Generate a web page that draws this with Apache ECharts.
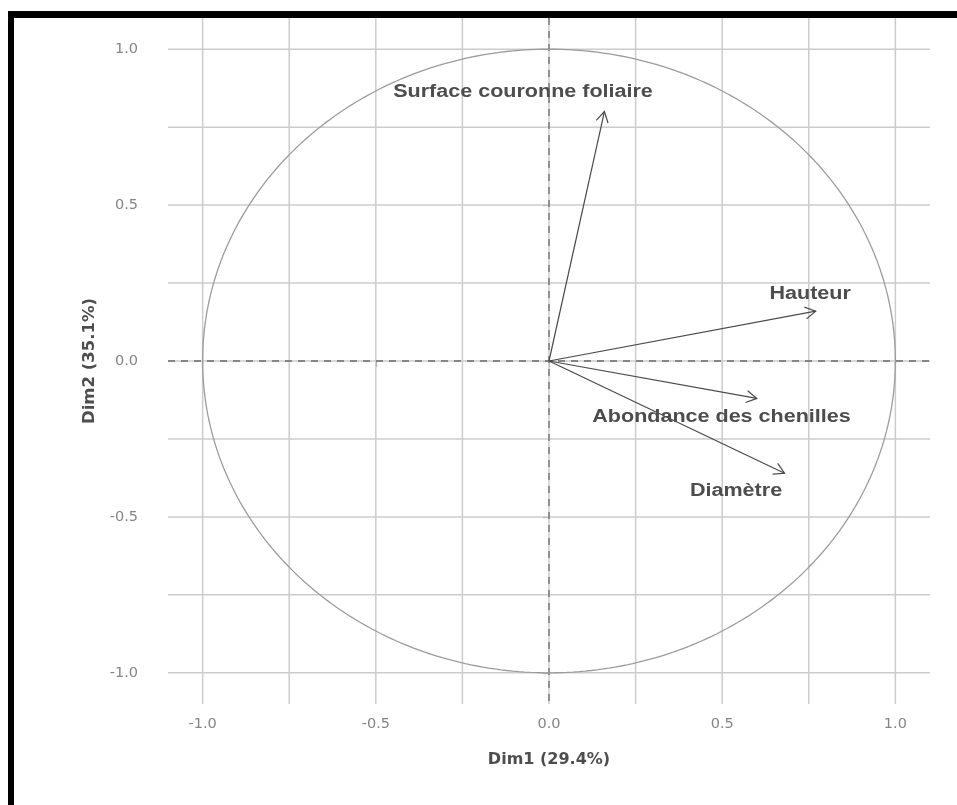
<!DOCTYPE html>
<html>
<head>
<meta charset="utf-8">
<script src="https://cdn.jsdelivr.net/npm/echarts@6/dist/echarts.min.js"></script>
<style>
html,body{margin:0;padding:0;background:#fff;}
#c{width:957px;height:805px;}
</style>
</head>
<body>
<div id="c"></div>
<script>
// ---- data ----
const varNames = ['Surface couronne foliaire', 'Hauteur', 'Abondance des chenilles', 'Diamètre'];
const dim1 = [0.16, 0.77, 0.60, 0.68];
const dim2 = [0.80, 0.16, -0.12, -0.36];
const labelDim1 = [-0.075, 0.754, 0.498, 0.54];
const labelDim2 = [0.863, 0.214, -0.181, -0.416];
const tickValues = [-1, -0.5, 0, 0.5, 1];
const gridValues = [-1, -0.75, -0.5, -0.25, 0, 0.25, 0.5, 0.75, 1];
const xTitle = 'Dim1 (29.4%)';
const yTitle = 'Dim2 (35.1%)';

const chart = echarts.init(document.getElementById('c'), null, {renderer: 'canvas'});

const circleData = [];
for (let k = 0; k <= 360; k++) {
  const t = k * Math.PI / 180;
  circleData.push([Math.cos(t), Math.sin(t)]);
}

const gridColor = '#cccccc';
const textColor = '#4d4d4d';

const option = {
  backgroundColor: '#ffffff',
  animation: false,
  grid: {left: 168, right: 27, top: 18, bottom: 101},
  xAxis: {
    type: 'value', min: -1.1, max: 1.1,
    axisLine: {show: false},
    splitLine: {show: false},
    axisTick: {show: true, customValues: tickValues, length: 6, lineStyle: {color: '#999999', width: 1.2}},
    axisLabel: {customValues: tickValues, formatter: v => v.toFixed(1), color: '#858585', fontSize: 14.5, fontFamily: 'DejaVu Sans', margin: 13},
    name: xTitle, nameLocation: 'middle', nameGap: 48,
    nameTextStyle: {color: textColor, fontSize: 16, fontWeight: 'bold', fontFamily: 'DejaVu Sans'}
  },
  yAxis: {
    type: 'value', min: -1.1, max: 1.1,
    axisLine: {show: false},
    splitLine: {show: false},
    axisTick: {show: true, customValues: tickValues, length: 6, lineStyle: {color: '#999999', width: 1.2}},
    axisLabel: {customValues: tickValues, formatter: v => v.toFixed(1), color: '#858585', fontSize: 14.5, fontFamily: 'DejaVu Sans', margin: 30},
    name: yTitle, nameLocation: 'middle', nameGap: 70,
    nameTextStyle: {color: textColor, fontSize: 16.5, fontWeight: 'bold', fontFamily: 'DejaVu Sans'}
  },
  graphic: [
    {type: 'rect', shape: {x: 8, y: 11, width: 949, height: 7}, style: {fill: '#000'}, z: 100},
    {type: 'rect', shape: {x: 8, y: 11, width: 6, height: 794}, style: {fill: '#000'}, z: 100}
  ],
  series: [
    {
      type: 'custom', silent: true, z: 1,
      data: gridValues.map(v => [v, v]),
      renderItem: function (params, api) {
        const cs = params.coordSys;
        const v = api.value(0);
        const px = api.coord([v, 0])[0];
        const py = api.coord([0, v])[1];
        return {
          type: 'group',
          children: [
            {type: 'line', shape: {x1: px, y1: cs.y, x2: px, y2: cs.y + cs.height}, style: {stroke: gridColor, lineWidth: 1.5}},
            {type: 'line', shape: {x1: cs.x, y1: py, x2: cs.x + cs.width, y2: py}, style: {stroke: gridColor, lineWidth: 1.5}}
          ]
        };
      }
    },
    {
      type: 'custom', silent: true, z: 2,
      data: [[0, 0]],
      renderItem: function (params, api) {
        const cs = params.coordSys;
        const o = api.coord([0, 0]);
        const st = {stroke: '#6a6a6a', lineWidth: 1.3, lineDash: [7, 6]};
        return {
          type: 'group',
          children: [
            {type: 'line', shape: {x1: o[0], y1: cs.y, x2: o[0], y2: cs.y + cs.height}, style: st},
            {type: 'line', shape: {x1: cs.x, y1: o[1], x2: cs.x + cs.width, y2: o[1]}, style: st}
          ]
        };
      }
    },
    {
      type: 'line', z: 3, silent: true,
      data: circleData, showSymbol: false, symbol: 'none',
      lineStyle: {color: '#9c9c9c', width: 1.3}
    },
    {
      type: 'custom', silent: true, z: 4,
      data: dim1.map((v, i) => [v, dim2[i]]),
      renderItem: function (params, api) {
        const p0 = api.coord([0, 0]);
        const p1 = api.coord([api.value(0), api.value(1)]);
        const a = Math.atan2(p1[1] - p0[1], p1[0] - p0[0]);
        const L = 12, th = Math.PI / 6;
        const w1 = [p1[0] - L * Math.cos(a - th), p1[1] - L * Math.sin(a - th)];
        const w2 = [p1[0] - L * Math.cos(a + th), p1[1] - L * Math.sin(a + th)];
        const st = {stroke: '#4a4a4a', lineWidth: 1.2, fill: null};
        return {
          type: 'group',
          children: [
            {type: 'line', shape: {x1: p0[0], y1: p0[1], x2: p1[0], y2: p1[1]}, style: st},
            {type: 'polyline', shape: {points: [w1, p1, w2]}, style: st}
          ]
        };
      }
    },
    {
      type: 'custom', silent: true, z: 5,
      data: labelDim1.map((v, i) => [v, labelDim2[i], i]),
      renderItem: function (params, api) {
        const p = api.coord([api.value(0), api.value(1)]);
        const idx = api.value(2);
        return {
          type: 'text', x: p[0], y: p[1], scaleX: 1.23, scaleY: 1,
          style: {
            text: varNames[idx], x: 0, y: 0, align: 'center', verticalAlign: 'middle',
            fill: textColor, font: 'bold 17.5px "Liberation Sans", Arial, sans-serif'
          }
        };
      }
    }
  ]
};
chart.setOption(option);
</script>
</body>
</html>
